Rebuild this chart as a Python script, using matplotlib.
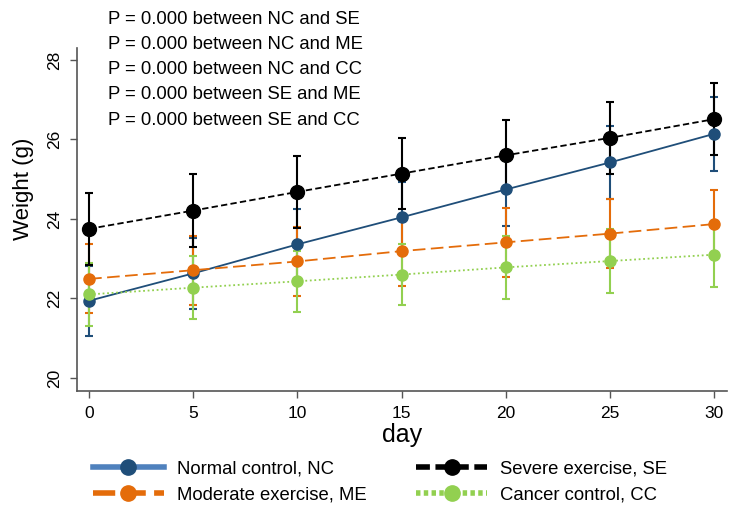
import matplotlib.pyplot as plt
from matplotlib.lines import Line2D

plt.rcParams["font.family"] = ["Liberation Sans", "DejaVu Sans"]

days = [0, 5, 10, 15, 20, 25, 30]

# mean weight (g) and SD per group
nc_mean = [21.94, 22.63, 23.36, 24.04, 24.74, 25.42, 26.14]
nc_sd = [0.88, 0.89, 0.89, 0.90, 0.91, 0.91, 0.93]
se_mean = [23.75, 24.21, 24.68, 25.14, 25.60, 26.04, 26.51]
se_sd = [0.90, 0.91, 0.90, 0.90, 0.88, 0.91, 0.90]
me_mean = [22.49, 22.71, 22.93, 23.19, 23.41, 23.63, 23.87]
me_sd = [0.87, 0.87, 0.86, 0.88, 0.86, 0.86, 0.86]
cc_mean = [22.10, 22.27, 22.43, 22.60, 22.78, 22.94, 23.10]
cc_sd = [0.80, 0.79, 0.77, 0.77, 0.80, 0.81, 0.81]

p_lines = [
    "P = 0.000 between NC and SE",
    "P = 0.000 between NC and ME",
    "P = 0.000 between NC and CC",
    "P = 0.000 between SE and ME",
    "P = 0.000 between SE and CC",
]

BLUE = "#1f4e79"
BLUE_LIGHT = "#4f81bd"
ORANGE = "#e46c0a"
GREEN = "#92d050"
BLACK = "#000000"
AXIS_GRAY = "#555555"

fig = plt.figure(figsize=(7.37, 5.14), dpi=100)
ax = fig.add_axes([0.1045, 0.2393, 0.882, 0.6673])

series = [
    (nc_mean, nc_sd, BLUE, "-", 8),
    (me_mean, me_sd, ORANGE, (0, (7, 3)), 8),
    (cc_mean, cc_sd, GREEN, (0, (1, 1.5)), 8),
    (se_mean, se_sd, BLACK, (0, (3.5, 1.8)), 10),
]
for mean, sd, color, ls, ms in series:
    ax.errorbar(days, mean, yerr=sd, color=color, ecolor=color, linestyle=ls,
                linewidth=1.3, marker="o", markersize=ms, elinewidth=1.5,
                capsize=3, capthick=1.5)

ax.set_xlim(-0.58, 30.62)
ax.set_ylim(19.67, 28.3)
ax.set_xticks(days)
ax.set_yticks([20, 22, 24, 26, 28])
ax.tick_params(axis="both", labelsize=12.5, color=AXIS_GRAY, length=5,
               width=1, direction="out", pad=6)
plt.setp(ax.get_yticklabels(), rotation=90, va="center")
for side in ["top", "right"]:
    ax.spines[side].set_visible(False)
for side in ["left", "bottom"]:
    ax.spines[side].set_color(AXIS_GRAY)
    ax.spines[side].set_linewidth(1.2)

ax.set_xlabel("day", fontsize=18, labelpad=1)
fig.text(24 / 737, 1 - 189 / 514, "Weight (g)", fontsize=16, rotation=90,
         ha="center", va="center")

# p-value annotations in top-left corner
for i, line in enumerate(p_lines):
    fig.text(108 / 737, 1 - (19 + i * 25.3) / 514, line, fontsize=13.3,
             va="center", ha="left")

handles = [
    Line2D([], [], color=BLUE_LIGHT, lw=4, marker="o", markersize=11,
           markerfacecolor=BLUE, markeredgecolor=BLUE),
    Line2D([], [], color=ORANGE, lw=4, ls=(0, (4, 1.5)), marker="o",
           markersize=11),
    Line2D([], [], color=BLACK, lw=4, ls=(0, (2.5, 1)), marker="o",
           markersize=11),
    Line2D([], [], color=GREEN, lw=4, ls=(0, (0.8, 0.6)), marker="o",
           markersize=11),
]
labels = ["Normal control, NC", "Moderate exercise, ME",
          "Severe exercise, SE", "Cancer control, CC"]
fig.legend(handles, labels, ncol=2, loc="center left",
           bbox_to_anchor=(76 / 737, 1 - 482 / 514), frameon=False,
           fontsize=13.3, handlelength=3.85, handletextpad=0.7,
           columnspacing=2.7, labelspacing=0.5)

fig.savefig("out.png", dpi=100)
